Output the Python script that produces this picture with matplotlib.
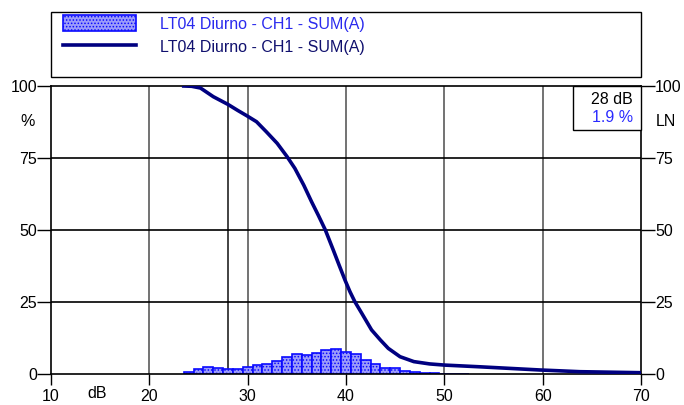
import matplotlib
matplotlib.use("Agg")
import matplotlib.pyplot as plt
from matplotlib.patches import Rectangle, Patch
from matplotlib.lines import Line2D

plt.rcParams['font.family'] = ['Liberation Sans', 'DejaVu Sans']
plt.rcParams['hatch.linewidth'] = 0.7

# histogram: 1 dB classes, % of time
hist_db = [24, 25, 26, 27, 28, 29, 30, 31, 32, 33, 34, 35, 36, 37, 38, 39,
           40, 41, 42, 43, 44, 45, 46, 47, 48, 49, 50, 51, 52]
hist_pct = [0.6, 1.6, 2.3, 2.0, 1.9, 1.8, 2.6, 3.2, 3.6, 4.6, 5.9, 7.0, 6.7, 7.2,
            8.2, 8.8, 7.5, 6.8, 4.7, 3.4, 2.2, 2.0, 1.2, 0.6, 0.3, 0.2, 0.15, 0.1, 0.1]

# cumulative level curve (LN)
ln_db = [23.5, 24.3, 25.2, 26.5, 28.0, 29.0, 29.9, 30.9, 31.9, 33.0, 34.0, 34.8,
         35.7, 36.5, 37.2, 37.9, 38.7, 39.3, 39.9, 40.4, 40.9, 41.6, 42.6, 43.5,
         44.3, 45.5, 46.9, 48.5, 50.0, 53.6, 59.7, 63.8, 70.0]
ln_pct = [100, 99.9, 99.3, 96.3, 93.6, 91.5, 89.7, 87.6, 84.1, 80.1, 75.5, 71.4,
          65.6, 59.8, 55.0, 50.0, 43.1, 37.8, 32.6, 28.6, 25.1, 21.1, 15.3, 11.8,
          8.9, 6.0, 4.3, 3.5, 3.1, 2.5, 1.4, 0.8, 0.45]

series_name = "LT04 Diurno - CH1 - SUM(A)"
cursor_db = 28
cursor_pct = 1.9

FS = 11.5
W, H = 684, 405
fig = plt.figure(figsize=(W / 100, H / 100), dpi=100)
ax = fig.add_axes([51 / W, 1 - 374 / H, 590 / W, 288 / H])

# grid
for x in [20, 30, 40, 50, 60]:
    ax.axvline(x, color='#5a5a5a', lw=1.2, zorder=1)
ax.axvline(cursor_db, color='#222222', lw=1.2, zorder=1)
for y in [25, 50, 75]:
    ax.axhline(y, color='black', lw=1.2, zorder=1)

ax.bar(hist_db, hist_pct, width=1.0, facecolor='#9c9cfa', edgecolor='#0a0aff',
       hatch='.....', lw=1.2, zorder=2)
ax.plot(ln_db, ln_pct, color='#000080', lw=2.6, zorder=3)

ax.set_xlim(10, 70)
ax.set_ylim(0, 100)
ax.set_xticks([10, 20, 30, 40, 50, 60, 70])
ax.set_yticks([0, 25, 50, 75, 100])
ax.tick_params(axis='y', which='both', left=True, right=True, labelleft=True,
               labelright=True, direction='out', length=10, width=1, pad=0,
               labelsize=FS)
ax.tick_params(axis='x', direction='out', length=8, width=1, pad=3, labelsize=FS)
for s in ax.spines.values():
    s.set_linewidth(1.2)

ax.text(14.7, -4, "dB", ha='center', va='top', fontsize=FS)
fig.text(28 / W, 1 - 122 / H, "%", ha='center', va='center', fontsize=FS)
fig.text(666 / W, 1 - 122 / H, "LN", ha='center', va='center', fontsize=FS)

# cursor value box
fig.add_artist(Rectangle((573 / W, 1 - 130 / H), 68 / W, 44 / H, transform=fig.transFigure,
                         facecolor='white', edgecolor='black', lw=1.0, zorder=5))
fig.text(633 / W, 1 - 100 / H, f"{cursor_db} dB", ha='right', va='center',
         fontsize=FS, zorder=6)
fig.text(633 / W, 1 - 117 / H, f"{cursor_pct} %", ha='right', va='center',
         fontsize=FS, color='#2a2aff', zorder=6)

# legend box
fig.add_artist(Rectangle((51 / W, 1 - 77 / H), 590 / W, 65 / H, transform=fig.transFigure,
                         facecolor='none', edgecolor='black', lw=1.0))
handles = [Patch(facecolor='#9c9cfa', edgecolor='#0a0aff', hatch='.....', lw=1.2),
           Line2D([], [], color='#000080', lw=2.6)]
fig.legend(handles, [series_name, series_name], loc='upper left',
           bbox_to_anchor=(63 / W, 1 - 15 / H), frameon=False, fontsize=FS,
           borderaxespad=0, borderpad=0,
           handlelength=4.6, handleheight=1.2, handletextpad=1.5, labelspacing=0.4,
           labelcolor=['#2a2aee', '#10106e'])

fig.savefig("out.png", dpi=100)
